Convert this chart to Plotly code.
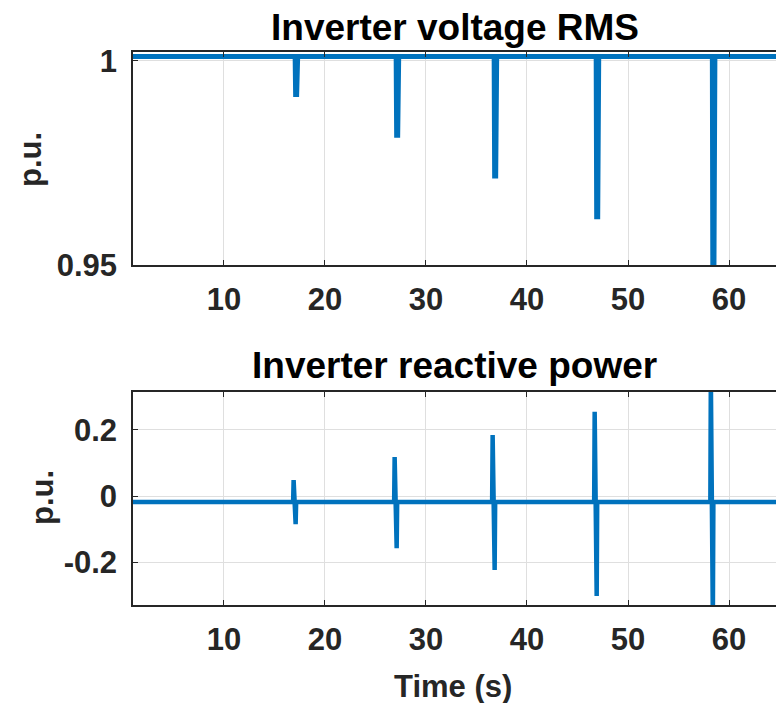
import plotly.graph_objects as go

# ---- data ----
# Inverter voltage RMS (p.u.) : baseline with five dips
t_v = [1.0,
       17.05, 17.1, 17.2, 17.3,
       27.05, 27.1, 27.2, 27.3,
       36.75, 36.8, 36.9, 37.0,
       46.85, 46.9, 47.0, 47.1,
       58.35, 58.4, 58.5, 58.6,
       65.0]
v_rms = [1.0011,
         1.0011, 0.9918, 0.9918, 1.0011,
         1.0011, 0.9818, 0.9818, 1.0011,
         1.0011, 0.9718, 0.9718, 1.0011,
         1.0011, 0.9618, 0.9618, 1.0011,
         1.0011, 0.9450, 0.9450, 1.0011,
         1.0011]

# Inverter reactive power (p.u.) : baseline with five bipolar spikes
t_q = [1.0,
       16.85, 16.9, 16.95, 17.1, 17.15, 17.2,
       26.85, 26.9, 26.95, 27.1, 27.15, 27.2,
       36.55, 36.6, 36.65, 36.8, 36.85, 36.9,
       46.65, 46.7, 46.75, 46.9, 46.95, 47.0,
       58.15, 58.2, 58.25, 58.4, 58.45, 58.5,
       65.0]
q = [-0.018,
     -0.018, 0.048, -0.018, -0.085, -0.018, -0.018,
     -0.018, 0.118, -0.018, -0.158, -0.018, -0.018,
     -0.018, 0.185, -0.018, -0.224, -0.018, -0.018,
     -0.018, 0.255, -0.018, -0.303, -0.018, -0.018,
     -0.018, 0.360, -0.018, -0.380, -0.018, -0.018,
     -0.018]

x_ticks = [10, 20, 30, 40, 50, 60]
v_ticks = [0.95, 1.0]
v_tick_text = ["0.95", "1"]
q_ticks = [-0.2, 0.0, 0.2]
q_tick_text = ["-0.2", "0", "0.2"]

title_top = "Inverter voltage RMS"
title_bot = "Inverter reactive power"
y_label = "p.u."
x_label = "Time (s)"

# ---- styling ----
BLUE = "#0072BD"
AX = "#262626"
GRID = "#dfdfdf"
FONT = "Liberation Sans, Arial, Helvetica, sans-serif"
TICKSIZE = 31
LABELSIZE = 31
TITLESIZE = 37

W, H = 776, 703
L, R, T, B = 133, 0, 52, 98
ph = H - T - B
top_dom = [(605 - 265) / ph, 1.0]
bot_dom = [0.0, (605 - 392) / ph]

fig = go.Figure()
fig.add_trace(go.Scatter(x=t_v, y=v_rms, mode="lines",
                         line=dict(color=BLUE, width=5),
                         xaxis="x", yaxis="y", showlegend=False))
fig.add_trace(go.Scatter(x=t_q, y=q, mode="lines",
                         line=dict(color=BLUE, width=4.5),
                         xaxis="x2", yaxis="y2", showlegend=False))

xcommon = dict(range=[1.0, 64.65], tickvals=x_ticks, showgrid=True,
               gridcolor=GRID, gridwidth=1, showline=True, linecolor=AX,
               linewidth=1.5, mirror="ticks", ticks="inside", ticklen=5,
               tickcolor=AX, tickwidth=1.2, zeroline=False, ticklabelstandoff=6,
               tickfont=dict(family=FONT, size=TICKSIZE, color=AX, weight="bold"))
ycommon = dict(showgrid=True, gridcolor=GRID, gridwidth=1, showline=True,
               linecolor=AX, linewidth=1.5, ticks="inside", ticklen=5,
               tickcolor=AX, tickwidth=1.2, zeroline=False, ticklabelstandoff=8,
               tickfont=dict(family=FONT, size=TICKSIZE, color=AX, weight="bold"))

fig.update_layout(
    width=W, height=H,
    margin=dict(l=L, r=R, t=T, b=B),
    paper_bgcolor="white", plot_bgcolor="white",
    xaxis=dict(domain=[0, 1], anchor="y", **xcommon),
    yaxis=dict(domain=top_dom, anchor="x", range=[0.95, 1.0022],
               tickvals=v_ticks, ticktext=v_tick_text, **ycommon),
    xaxis2=dict(domain=[0, 1], anchor="y2", **xcommon),
    yaxis2=dict(domain=bot_dom, anchor="x2", range=[-0.33, 0.315],
                tickvals=q_ticks, ticktext=q_tick_text, **ycommon),
)

def pax(py):
    return (H - B - py) / ph

def pxx(px):
    return (px - L) / (W - L - R)

ann = [
    dict(text=title_top, x=0.5, y=pax(27), size=TITLESIZE, color="black", angle=0),
    dict(text=title_bot, x=0.5, y=pax(365), size=TITLESIZE, color="black", angle=0),
    dict(text=y_label, x=pxx(30), y=pax(160), size=LABELSIZE, color=AX, angle=-90),
    dict(text=y_label, x=pxx(42), y=pax(498), size=LABELSIZE, color=AX, angle=-90),
    dict(text=x_label, x=pxx(453), y=pax(686), size=LABELSIZE, color=AX, angle=0),
]
for a in ann:
    fig.add_annotation(text=a["text"], x=a["x"], y=a["y"], xref="paper", yref="paper",
                       xanchor="center", yanchor="middle", showarrow=False,
                       textangle=a["angle"],
                       font=dict(family=FONT, size=a["size"], color=a["color"], weight="bold"))

fig.write_html("out.html")
